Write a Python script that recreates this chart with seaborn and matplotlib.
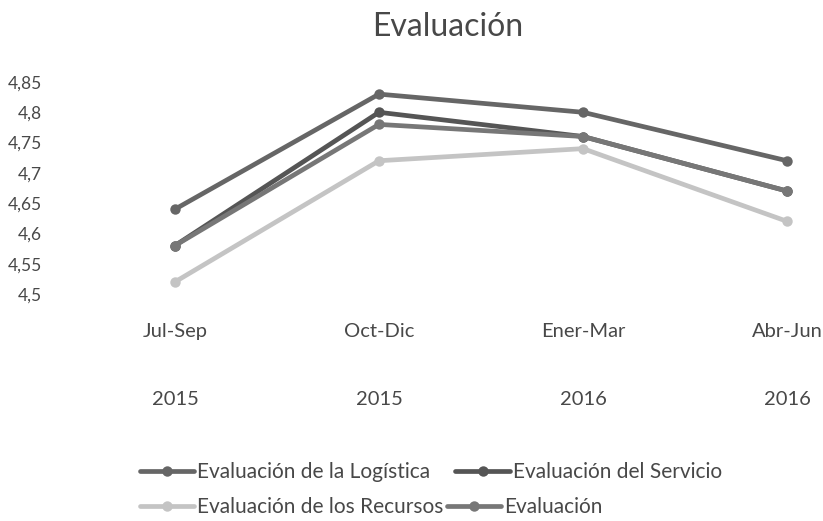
import pandas as pd
import matplotlib.pyplot as plt
import seaborn as sns

# Data
periodos = ['Jul-Sep\n\n2015', 'Oct-Dic\n\n2015', 'Ener-Mar\n\n2016', 'Abr-Jun\n\n2016']
series = ['Evaluación de la Logística', 'Evaluación del Servicio',
          'Evaluación de los Recursos', 'Evaluación']
logistica = [4.64, 4.83, 4.80, 4.72]
servicio = [4.58, 4.80, 4.76, 4.67]
recursos = [4.52, 4.72, 4.74, 4.62]
evaluacion = [4.58, 4.78, 4.76, 4.67]
yticks = [4.5, 4.55, 4.6, 4.65, 4.7, 4.75, 4.8, 4.85]

df = pd.DataFrame({
    'periodo': list(range(len(periodos))) * 4,
    'valor': logistica + servicio + recursos + evaluacion,
    'serie': [s for s in series for _ in periodos],
})

sns.set_style('white')
plt.rcParams['font.family'] = ['Lato', 'DejaVu Sans']
text_color = '#484848'
colors = ['#666666', '#555555', '#c4c4c4', '#777777']

W, H = 823, 521
fig = plt.figure(figsize=(W / 100, H / 100), dpi=100)
left, right, top, bottom = 60, 812, 82, 294
ax = fig.add_axes([left / W, 1 - bottom / H, (right - left) / W, (bottom - top) / H])

sns.lineplot(data=df, x='periodo', y='valor', hue='serie', hue_order=series,
             palette=colors, marker='o', markersize=7.5, linewidth=3.4,
             markeredgewidth=0, ax=ax, legend=True)

# x mapping: category 0 at px 175, category 3 at px 787
ppu = (787 - 175) / 3
ax.set_xlim((left - 175) / ppu, (right - 175) / ppu)
ax.set_ylim(4.5, 4.85)
ax.set_yticks(yticks)
ax.set_yticklabels([f'{v:g}'.replace('.', ',') for v in yticks], fontsize=12.5, color=text_color)
ax.set_xticks(range(len(periodos)))
ax.set_xticklabels(periodos, fontsize=14.5, color=text_color, linespacing=2.2)
ax.tick_params(axis='x', pad=21, length=0)
ax.tick_params(axis='y', pad=13, length=0)
ax.set_xlabel('')
ax.set_ylabel('')
for s in ax.spines.values():
    s.set_visible(False)

fig.text(448 / W, 1 - 27 / H, 'Evaluación', ha='center', va='center', fontsize=23, color=text_color)

# Excel-style legend: two rows, each laid out on its own
handles, labels = ax.get_legend_handles_labels()
ax.get_legend().remove()
rows = [([0, 1], 472, 1.2), ([2, 3], 507, 0.15)]
for idx, ypx, colsp in rows:
    leg = fig.legend([handles[i] for i in idx], [labels[i] for i in idx],
                     loc='center left', bbox_to_anchor=(140 / W, 1 - ypx / H),
                     ncol=2, frameon=False, fontsize=15, columnspacing=colsp,
                     handlelength=2.6, handletextpad=0.15, borderaxespad=0, borderpad=0)
    for t in leg.get_texts():
        t.set_color(text_color)

fig.savefig('out.png', dpi=100)
